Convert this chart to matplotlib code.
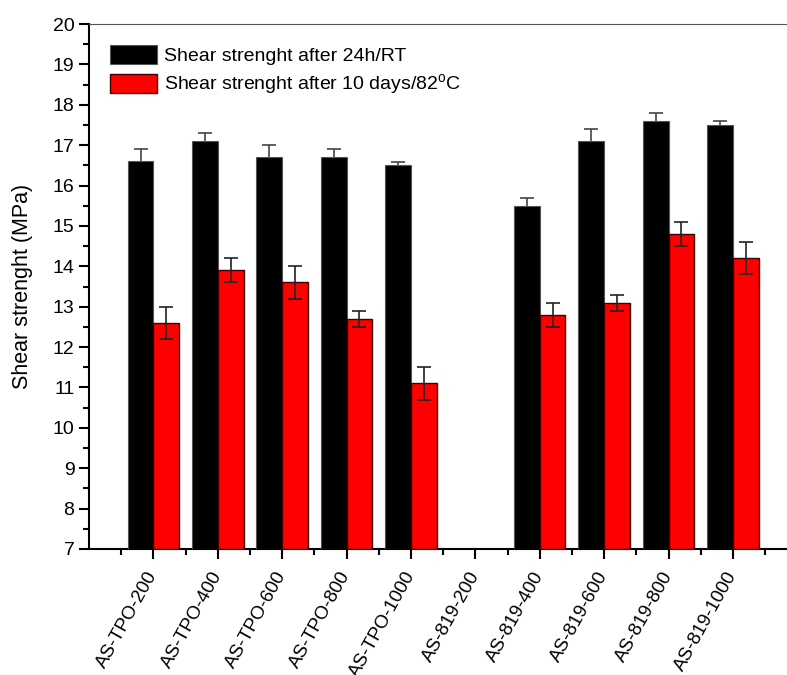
import numpy as np
import matplotlib
matplotlib.use('Agg')
import matplotlib.pyplot as plt
from matplotlib.ticker import MultipleLocator

plt.rcParams['font.family'] = 'Liberation Sans'
plt.rcParams['mathtext.fontset'] = 'custom'
plt.rcParams['mathtext.rm'] = 'Liberation Sans'

# sample names
samples = ['AS-TPO-200', 'AS-TPO-400', 'AS-TPO-600', 'AS-TPO-800', 'AS-TPO-1000',
           'AS-819-200', 'AS-819-400', 'AS-819-600', 'AS-819-800', 'AS-819-1000']

# shear strength after 24h / RT
rt_vals = [16.6, 17.1, 16.7, 16.7, 16.5, np.nan, 15.5, 17.1, 17.6, 17.5]
rt_err = [0.3, 0.2, 0.3, 0.2, 0.08, np.nan, 0.2, 0.3, 0.2, 0.1]

# shear strength after 10 days / 82 C
hot_vals = [12.6, 13.9, 13.6, 12.7, 11.1, np.nan, 12.8, 13.1, 14.8, 14.2]
hot_err = [0.4, 0.3, 0.4, 0.2, 0.4, np.nan, 0.3, 0.2, 0.3, 0.4]

fig = plt.figure(figsize=(7.87, 6.75), dpi=100)
ax = fig.add_axes([0.1131, 0.1867, 0.8869, 0.7777])

x = np.arange(1, len(samples) + 1)
w = 0.4
base = 7

ax.bar(x - w / 2, np.array(rt_vals) - base, w, bottom=base, color='black',
       edgecolor='#555555', linewidth=0.8, zorder=3,
       label='Shear strenght after 24h/RT')
ax.bar(x + w / 2, np.array(hot_vals) - base, w, bottom=base, color='#ff0000',
       edgecolor='#400000', linewidth=1.0, zorder=3,
       label=r'Shear strenght after 10 days/82$^{\rm o}$C')
# black-bar error bars sit behind the bars, only the upper half shows
ax.errorbar(x - w / 2, rt_vals, yerr=rt_err, fmt='none', ecolor='#444444',
            elinewidth=1.2, capsize=5, capthick=1.2, zorder=2)
ax.errorbar(x + w / 2, hot_vals, yerr=hot_err, fmt='none', ecolor='#222222',
            elinewidth=1.2, capsize=5, capthick=1.2, zorder=4)

ax.set_xlim(0, 10.84)
ax.set_ylim(7, 20)
ax.yaxis.set_major_locator(MultipleLocator(1))
ax.yaxis.set_minor_locator(MultipleLocator(0.5))
ax.set_xticks(x)
ax.set_xticks(np.arange(0.5, 11, 1), minor=True)
ax.set_xticklabels(samples, rotation=61, ha='right', va='center',
                   rotation_mode='anchor', fontsize=13.5)
ax.tick_params(axis='y', labelsize=14)
ax.tick_params(which='major', direction='out', length=7, width=1.5)
ax.tick_params(which='minor', direction='out', length=4, width=1.5)
ax.tick_params(axis='x', which='major', pad=10)
ax.spines['right'].set_visible(False)
ax.spines['left'].set_linewidth(1.5)
ax.spines['bottom'].set_linewidth(1.5)
ax.spines['top'].set_color('#555555')
ax.set_ylabel('Shear strenght (MPa)', fontsize=15.5, labelpad=14)

ax.legend(loc='upper left', frameon=False, fontsize=14, handlelength=2.4,
          handleheight=1.1, handletextpad=0.35, borderaxespad=0.7,
          labelspacing=0.35)

fig.savefig('out.png', dpi=100)
